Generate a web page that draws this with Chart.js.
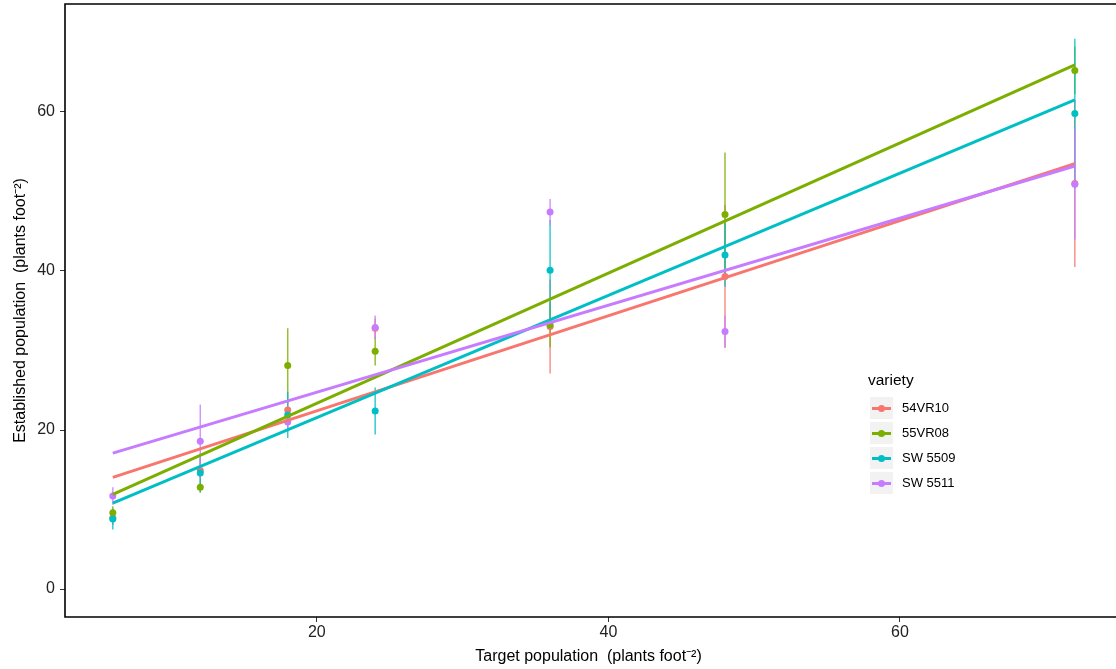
<!DOCTYPE html>
<html>
<head>
<meta charset="utf-8">
<script src="https://cdn.jsdelivr.net/npm/chart.js@4.4.0/dist/chart.umd.min.js"></script>
<style>
  html, body { margin: 0; padding: 0; background: #fff; overflow: hidden; }
  #wrap { position: relative; width: 1116px; height: 669px; }
  #legend { position: absolute; left: 868px; top: 369px; font-family: "Liberation Sans", Arial, sans-serif; color: #000; }
  #legend .title { font-size: 15.5px; height: 21px; line-height: 21px; margin-bottom: 5px; }
  #legend .row { display: flex; align-items: center; height: 25px; }
  #legend .key { position: relative; width: 23px; height: 22px; background: #f2f2f2; margin-left: 2px; }
  #legend .key .ln { position: absolute; left: 2px; right: 2px; top: 10px; height: 3px; }
  #legend .key .dot { position: absolute; left: 8px; top: 8px; width: 7px; height: 7px; border-radius: 50%; }
  #legend .lbl { font-size: 13px; margin-left: 9px; }
</style>
</head>
<body>
<div id="wrap">
  <canvas id="chart" width="1116" height="669"></canvas>
  <div id="legend"></div>
</div>
<script>
"use strict";

// Data
const VARIETIES = ["54VR10", "55VR08", "SW 5509", "SW 5511"];
const COLORS    = ["#F8766D", "#7CAE00", "#00BFC4", "#C77CFF"];
const TARGETS   = [6, 12, 18, 24, 36, 48, 72];

// mean established population per target, one array per variety
const MEAN_54VR10 = [8.95, 14.9, 22.5, 32.8, 33.0, 39.3, 51.0];
const MEAN_55VR08 = [9.6, 12.8, 28.1, 29.9, 33.2, 47.1, 65.2];
const MEAN_SW5509 = [8.8, 14.6, 21.9, 22.4, 40.1, 42.0, 59.8];
const MEAN_SW5511 = [11.7, 18.6, 21.0, 32.9, 47.4, 32.4, 50.9];

// half-width of the error bars
const ERR_54VR10 = [0.9, 1.5, 1.0, 1.2, 5.9, 9.0, 10.5];
const ERR_55VR08 = [0.8, 0.7, 4.7, 1.8, 2.8, 7.8, 3.0];
const ERR_SW5509 = [1.3, 2.4, 2.9, 2.95, 6.3, 4.0, 9.4];
const ERR_SW5511 = [1.1, 4.6, 1.2, 1.5, 1.65, 2.0, 6.95];

// fitted regression line, value at x = 6 and x = 72
const FIT_X      = [6, 72];
const FIT_54VR10 = [14.05, 53.5];
const FIT_55VR08 = [11.9, 65.9];
const FIT_SW5509 = [10.8, 61.5];
const FIT_SW5511 = [17.1, 53.2];

const X_TICKS = [20, 40, 60];
const Y_TICKS = [0, 20, 40, 60];

const MEANS = [MEAN_54VR10, MEAN_55VR08, MEAN_SW5509, MEAN_SW5511];
const ERRS  = [ERR_54VR10, ERR_55VR08, ERR_SW5509, ERR_SW5511];
const FITS  = [FIT_54VR10, FIT_55VR08, FIT_SW5509, FIT_SW5511];

const FONT = "'Liberation Sans', Arial, sans-serif";

function withAlpha(hex, a) {
  const n = parseInt(hex.slice(1), 16);
  return `rgba(${(n >> 16) & 255}, ${(n >> 8) & 255}, ${n & 255}, ${a})`;
}

// drop the label overhang padding so the panel fills the canvas like ggplot
function noOverhang(s) {
  s.paddingTop = 0;
  s.paddingBottom = 0;
  s.paddingLeft = 0;
  s.paddingRight = 0;
}

// vertical error bars drawn through the chart scales, under the points
const errorBarPlugin = {
  id: "errorBars",
  beforeDatasetsDraw(chart) {
    const { ctx, scales: { x, y } } = chart;
    ctx.save();
    ctx.lineWidth = 1.5;
    VARIETIES.forEach((v, i) => {
      ctx.strokeStyle = withAlpha(COLORS[i], 0.8);
      TARGETS.forEach((t, j) => {
        const px = x.getPixelForValue(t);
        ctx.beginPath();
        ctx.moveTo(px, y.getPixelForValue(MEANS[i][j] - ERRS[i][j]));
        ctx.lineTo(px, y.getPixelForValue(MEANS[i][j] + ERRS[i][j]));
        ctx.stroke();
      });
    });
    ctx.restore();
  }
};

// panel frame: top, left and bottom edges
const framePlugin = {
  id: "frame",
  afterDraw(chart) {
    const { ctx, chartArea: a } = chart;
    ctx.save();
    ctx.strokeStyle = "#000";
    ctx.lineWidth = 1.6;
    ctx.beginPath();
    ctx.moveTo(a.right + 6, a.top);
    ctx.lineTo(a.left, a.top);
    ctx.lineTo(a.left, a.bottom);
    ctx.lineTo(a.right + 6, a.bottom);
    ctx.stroke();
    ctx.restore();
  }
};

// later varieties sit on top (lower order = drawn last)
const datasets = [];
VARIETIES.forEach((v, i) => {
  datasets.push({
    type: "line",
    label: v + " fit",
    data: FIT_X.map((fx, k) => ({ x: fx, y: FITS[i][k] })),
    borderColor: COLORS[i],
    borderWidth: 3,
    pointRadius: 0,
    fill: false,
    order: 4 - i
  });
  datasets.push({
    type: "scatter",
    label: v,
    data: TARGETS.map((t, j) => ({ x: t, y: MEANS[i][j] })),
    backgroundColor: COLORS[i],
    borderColor: COLORS[i],
    pointRadius: 3.5,
    borderWidth: 0,
    order: 10 - i
  });
});

new Chart(document.getElementById("chart").getContext("2d"), {
  type: "scatter",
  data: { datasets },
  options: {
    responsive: false,
    animation: false,
    layout: { padding: { top: 3, right: 0, left: 0, bottom: 0 } },
    plugins: {
      legend: { display: false },
      tooltip: { enabled: false }
    },
    scales: {
      x: {
        type: "linear",
        min: 2.72,
        max: 74.55,
        afterFit: s => { s.height = 52; noOverhang(s); },
        afterBuildTicks: s => { s.ticks = X_TICKS.map(v => ({ value: v })); },
        grid: { display: true, drawOnChartArea: false, drawTicks: true, tickLength: 5, tickColor: "#333", tickWidth: 1 },
        border: { display: false },
        ticks: { color: "#222", font: { family: FONT, size: 16 }, padding: 1, maxRotation: 0 },
        title: {
          display: true,
          text: "Target population  (plants foot\u207B\u00B2)",
          color: "#000",
          font: { family: FONT, size: 16 },
          padding: { top: 0, bottom: 3 }
        }
      },
      y: {
        type: "linear",
        min: -3.51,
        max: 73.56,
        afterFit: s => { s.width = 65; noOverhang(s); },
        afterBuildTicks: s => { s.ticks = Y_TICKS.map(v => ({ value: v })); },
        grid: { display: true, drawOnChartArea: false, drawTicks: true, tickLength: 5, tickColor: "#333", tickWidth: 1 },
        border: { display: false },
        ticks: { color: "#222", font: { family: FONT, size: 16 }, padding: 5 },
        title: {
          display: true,
          text: "Established population  (plants foot\u207B\u00B2)",
          color: "#000",
          font: { family: FONT, size: 16 },
          padding: { top: 11, bottom: 0 }
        }
      }
    }
  },
  plugins: [errorBarPlugin, framePlugin]
});

// legend built from the same arrays
const legend = document.getElementById("legend");
legend.innerHTML = '<div class="title">variety</div>' + VARIETIES.map((v, i) =>
  `<div class="row"><div class="key"><div class="ln" style="background:${COLORS[i]}"></div>` +
  `<div class="dot" style="background:${COLORS[i]}"></div></div><div class="lbl">${v}</div></div>`
).join("");
</script>
</body>
</html>
